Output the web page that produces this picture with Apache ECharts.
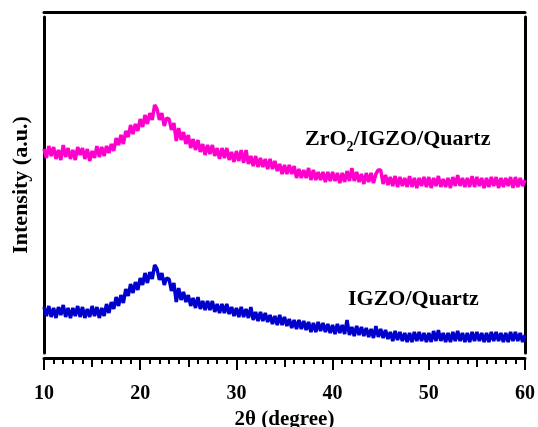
<!DOCTYPE html>
<html>
<head>
<meta charset="utf-8">
<title>XRD</title>
<script src="https://cdn.jsdelivr.net/npm/echarts@6/dist/echarts.min.js"></script>
<style>
html, body { margin: 0; padding: 0; background: #fff; }
#chart { width: 538px; height: 427px; }
</style>
</head>
<body>
<div id="chart"></div>
<script>
// 2θ scan points (degree)
var twoTheta = [
  10, 10.25, 10.5, 10.75, 11, 11.25, 11.5, 11.75, 12, 12.25, 12.5, 12.75, 13, 13.25, 13.5, 13.75,
  14, 14.25, 14.5, 14.75, 15, 15.25, 15.5, 15.75, 16, 16.25, 16.5, 16.75, 17, 17.25, 17.5, 17.75,
  18, 18.25, 18.5, 18.75, 19, 19.25, 19.5, 19.75, 20, 20.25, 20.5, 20.75, 21, 21.25, 21.5, 21.75,
  22, 22.25, 22.5, 22.75, 23, 23.25, 23.5, 23.75, 24, 24.25, 24.5, 24.75, 25, 25.25, 25.5, 25.75,
  26, 26.25, 26.5, 26.75, 27, 27.25, 27.5, 27.75, 28, 28.25, 28.5, 28.75, 29, 29.25, 29.5, 29.75,
  30, 30.25, 30.5, 30.75, 31, 31.25, 31.5, 31.75, 32, 32.25, 32.5, 32.75, 33, 33.25, 33.5, 33.75,
  34, 34.25, 34.5, 34.75, 35, 35.25, 35.5, 35.75, 36, 36.25, 36.5, 36.75, 37, 37.25, 37.5, 37.75,
  38, 38.25, 38.5, 38.75, 39, 39.25, 39.5, 39.75, 40, 40.25, 40.5, 40.75, 41, 41.25, 41.5, 41.75,
  42, 42.25, 42.5, 42.75, 43, 43.25, 43.5, 43.75, 44, 44.25, 44.5, 44.75, 45, 45.25, 45.5, 45.75,
  46, 46.25, 46.5, 46.75, 47, 47.25, 47.5, 47.75, 48, 48.25, 48.5, 48.75, 49, 49.25, 49.5, 49.75,
  50, 50.25, 50.5, 50.75, 51, 51.25, 51.5, 51.75, 52, 52.25, 52.5, 52.75, 53, 53.25, 53.5, 53.75,
  54, 54.25, 54.5, 54.75, 55, 55.25, 55.5, 55.75, 56, 56.25, 56.5, 56.75, 57, 57.25, 57.5, 57.75,
  58, 58.25, 58.5, 58.75, 59, 59.25, 59.5, 59.75, 60
];

// ZrO2/IGZO/Quartz (a.u.)
var zrIgzo = [
  204, 195, 207, 197, 206, 194, 203, 193, 208, 196, 205, 194, 203, 193, 206, 198,
  205, 194, 204, 192, 202, 195, 207, 196, 206, 197, 207, 200, 209, 202, 215, 208,
  218, 209, 222, 216, 228, 219, 229, 222, 234, 226, 238, 229, 240, 233, 248, 244,
  233, 240, 227, 235, 234, 223, 230, 212, 225, 213, 221, 209, 218, 205, 214, 203,
  213, 201, 209, 198, 208, 199, 208, 197, 205, 194, 205, 195, 205, 193, 201, 191,
  202, 192, 203, 190, 203, 189, 197, 187, 197, 186, 195, 186, 194, 184, 194, 184,
  192, 182, 189, 179, 188, 179, 188, 179, 187, 175, 184, 175, 183, 175, 185, 173,
  183, 173, 181, 173, 181, 171, 181, 172, 181, 172, 180, 170, 180, 171, 182, 172,
  185, 172, 181, 171, 179, 169, 180, 171, 180, 170, 179, 183, 183, 169, 178, 168,
  176, 167, 177, 166, 176, 167, 175, 166, 177, 166, 175, 165, 175, 167, 176, 166,
  176, 165, 175, 167, 177, 166, 174, 166, 175, 165, 176, 167, 178, 167, 175, 166,
  175, 166, 177, 166, 176, 167, 175, 165, 175, 166, 176, 167, 176, 165, 175, 166,
  175, 167, 176, 165, 176, 166, 175, 167, 173
];

// IGZO/Quartz (a.u.)
var igzo = [
  46, 37, 47, 36, 45, 35, 46, 38, 48, 36, 45, 35, 45, 37, 47, 36,
  46, 35, 44, 36, 47, 37, 46, 35, 45, 37, 49, 40, 51, 44, 56, 47,
  58, 50, 64, 57, 69, 60, 71, 63, 75, 68, 80, 70, 81, 74, 88, 84,
  73, 80, 68, 75, 74, 62, 70, 51, 65, 53, 61, 51, 58, 47, 55, 45,
  56, 44, 52, 43, 52, 43, 52, 41, 49, 40, 49, 40, 49, 39, 46, 37,
  45, 36, 46, 36, 44, 35, 46, 33, 41, 32, 41, 32, 40, 31, 38, 29,
  37, 28, 38, 28, 36, 27, 34, 25, 33, 24, 33, 24, 32, 23, 31, 21,
  30, 21, 31, 22, 30, 21, 29, 20, 28, 19, 29, 20, 28, 19, 33, 18,
  26, 17, 27, 18, 26, 17, 25, 16, 24, 15, 27, 16, 24, 15, 23, 14,
  21, 12, 22, 13, 21, 12, 20, 11, 20, 11, 21, 12, 21, 12, 20, 11,
  20, 11, 22, 12, 23, 12, 20, 11, 20, 11, 21, 12, 22, 12, 20, 11,
  20, 11, 21, 12, 21, 12, 20, 11, 20, 11, 21, 12, 21, 12, 20, 11,
  20, 11, 21, 12, 21, 12, 20, 11, 18
];

var xTicks = [10, 20, 30, 40, 50, 60];

function pairs(ys) {
  return twoTheta.map(function (x, i) { return [x, ys[i]]; });
}

var font = '"Liberation Serif", "Times New Roman", serif';
var black = '#000';

var chart = echarts.init(document.getElementById('chart'), null, { renderer: 'canvas' });

chart.setOption({
  animation: false,
  backgroundColor: '#fff',
  grid: [
    // frame for the x axes
    { left: 44, right: 13, top: 12, bottom: 69, containLabel: false, outerBoundsMode: 'none' },
    // plot area with the y lines (a little shorter, like the original)
    { left: 44, right: 13, top: 17, bottom: 74, containLabel: false, outerBoundsMode: 'none' }
  ],
  xAxis: [
    {
      gridIndex: 0,
      type: 'value',
      position: 'bottom',
      min: xTicks[0],
      max: xTicks[xTicks.length - 1],
      interval: 10,
      axisLine: { lineStyle: { color: black, width: 3 } },
      axisTick: { length: 12, lineStyle: { color: black, width: 2 } },
      splitLine: { show: false },
      axisLabel: {
        margin: 26,
        color: black,
        fontFamily: font,
        fontWeight: 'bold',
        fontSize: 20
      },
      name: '2θ (degree)',
      nameLocation: 'middle',
      nameGap: 46,
      nameTextStyle: {
        color: black,
        fontFamily: font,
        fontWeight: 'bold',
        fontSize: 21
      }
    },
    {
      gridIndex: 0,
      type: 'value',
      position: 'bottom',
      min: 10,
      max: 60,
      interval: 5,
      axisLine: { show: false },
      axisTick: { length: 9, lineStyle: { color: black, width: 2 } },
      minorTick: { show: true, splitNumber: 5, length: 6, lineStyle: { color: black, width: 2 } },
      splitLine: { show: false },
      axisLabel: { show: false }
    },
    {
      gridIndex: 0,
      type: 'value',
      position: 'top',
      min: 10,
      max: 60,
      axisLine: { lineStyle: { color: black, width: 3 } },
      axisTick: { show: false },
      axisLabel: { show: false },
      splitLine: { show: false }
    },
    {
      gridIndex: 1,
      type: 'value',
      min: 10,
      max: 60,
      show: false
    }
  ],
  yAxis: [
    {
      gridIndex: 1,
      type: 'value',
      position: 'left',
      min: 0,
      max: 336,
      axisLine: { show: true, lineStyle: { color: black, width: 3 } },
      axisTick: { show: false },
      axisLabel: { show: false },
      splitLine: { show: false },
      name: 'Intensity (a.u.)',
      nameLocation: 'middle',
      nameGap: 12,
      nameTextStyle: {
        color: black,
        fontFamily: font,
        fontWeight: 'bold',
        fontSize: 22
      }
    },
    {
      gridIndex: 1,
      type: 'value',
      position: 'right',
      min: 0,
      max: 336,
      axisLine: { show: true, lineStyle: { color: black, width: 3 } },
      axisTick: { show: false },
      axisLabel: { show: false },
      splitLine: { show: false }
    },
    {
      gridIndex: 0,
      type: 'value',
      min: 0,
      max: 1,
      show: false
    }
  ],
  graphic: [
    {
      type: 'text',
      left: 305,
      top: 128,
      style: {
        text: '{m|ZrO}{s|2}{m|/IGZO/Quartz}',
        rich: {
          m: { fontFamily: font, fontWeight: 'bold', fontSize: 22, lineHeight: 30, fill: black },
          s: { fontFamily: font, fontWeight: 'bold', fontSize: 14, lineHeight: 14, verticalAlign: 'bottom', fill: black }
        }
      }
    },
    {
      type: 'text',
      left: 348,
      top: 288,
      style: {
        text: 'IGZO/Quartz',
        fontFamily: font,
        fontWeight: 'bold',
        fontSize: 22,
        fill: black
      }
    }
  ],
  series: [
    {
      name: 'ZrO2/IGZO/Quartz',
      type: 'line',
      xAxisIndex: 3,
      yAxisIndex: 0,
      showSymbol: false,
      lineStyle: { color: '#ff00cc', width: 3.5 },
      data: pairs(zrIgzo)
    },
    {
      name: 'IGZO/Quartz',
      type: 'line',
      xAxisIndex: 3,
      yAxisIndex: 0,
      showSymbol: false,
      lineStyle: { color: '#0000cc', width: 3.5 },
      data: pairs(igzo)
    }
  ]
});
</script>
</body>
</html>
